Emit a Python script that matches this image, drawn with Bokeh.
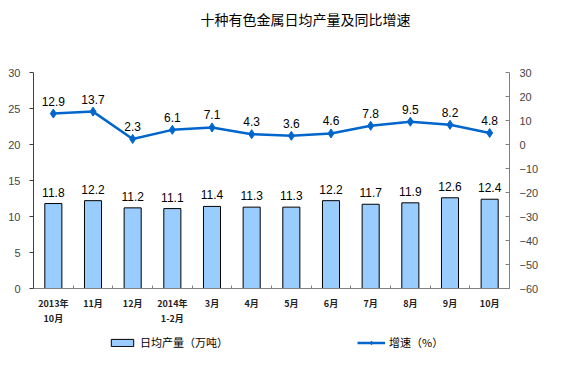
from bokeh.plotting import figure
from bokeh.models import (ColumnDataSource, Range1d, LinearAxis, FixedTicker, Legend, LegendItem, Label)
from bokeh.layouts import column
from bokeh.embed import file_html
from bokeh.resources import INLINE
from bokeh.core.properties import value

categories = ["2013年\n10月", "11月", "12月", "2014年\n1-2月", "3月", "4月", "5月",
              "6月", "7月", "8月", "9月", "10月"]
output = [11.8, 12.2, 11.2, 11.1, 11.4, 11.3, 11.3, 12.2, 11.7, 11.9, 12.6, 12.4]
growth = [12.9, 13.7, 2.3, 6.1, 7.1, 4.3, 3.6, 4.6, 7.8, 9.5, 8.2, 4.8]
left_ticks = [0, 5, 10, 15, 20, 25, 30]
right_ticks = [-60, -50, -40, -30, -20, -10, 0, 10, 20, 30]
title_text = "十种有色金属日均产量及同比增速"

n = len(categories)
xc = [i + 0.5 for i in range(n)]
src = ColumnDataSource(dict(x=xc, out=output, gr=growth,
                            out_lbl=[f"{v:.1f}" for v in output],
                            gr_lbl=[f"{v:.1f}" for v in growth]))

CJK = "Noto Sans CJK SC"
LAT = "Liberation Sans"
BAR_FILL = "#99CCFF"
LINE_COL = "#0066CC"


def strip(h):
    f = figure(width=546, height=h, output_backend="svg", toolbar_location=None,
               x_range=Range1d(0, 1), y_range=Range1d(0, 1),
               min_border_left=0, min_border_right=0, min_border_top=0, min_border_bottom=0)
    f.axis.visible = False
    f.xgrid.visible = False
    f.ygrid.visible = False
    f.outline_line_color = None
    return f


# title strip
t = strip(40)
t.add_layout(Label(x=272, y=22, x_units="screen", y_units="screen",
                   text=title_text, text_align="center",
                   text_baseline="middle", text_font=CJK, text_font_size="14px",
                   text_color="black"))

# main chart
p = figure(width=546, height=292, output_backend="svg", toolbar_location=None,
           x_range=Range1d(0, n), y_range=Range1d(0, 30),
           min_border_left=33, min_border_right=37, min_border_top=32, min_border_bottom=44)
p.outline_line_color = None
p.xgrid.visible = False
p.ygrid.visible = False
p.extra_y_ranges = {"right": Range1d(-60, 30)}

xa = p.xaxis[0]
xa.ticker = FixedTicker(ticks=xc, minor_ticks=list(range(1, n)))
xa.major_label_overrides = {x: c for x, c in zip(xc, categories)}
xa.major_tick_line_color = None
xa.minor_tick_in = 3
xa.minor_tick_out = 0
xa.minor_tick_line_color = "#808080"
xa.axis_line_color = "#808080"
xa.major_label_text_font = CJK
xa.major_label_text_font_size = "9px"
xa.major_label_text_font_style = "bold"
xa.major_label_text_color = "#222222"
xa.major_label_standoff = 2

ya = p.yaxis[0]
ya.ticker = FixedTicker(ticks=left_ticks)
ya.minor_tick_line_color = None
ya.major_tick_in = 0
ya.major_tick_out = 4
ya.axis_line_color = "#404040"
ya.major_tick_line_color = "#404040"
ya.major_label_text_font = LAT
ya.major_label_text_font_size = "11px"
ya.major_label_standoff = 9

ra = LinearAxis(y_range_name="right", ticker=FixedTicker(ticks=right_ticks))
ra.minor_tick_line_color = None
ra.major_tick_in = 4
ra.major_tick_out = 0
ra.axis_line_color = "#808080"
ra.major_tick_line_color = "#808080"
ra.major_label_text_font = LAT
ra.major_label_text_font_size = "11px"
ra.major_label_standoff = 10
p.add_layout(ra, "right")

p.vbar(x="x", top="out", width=0.43, bottom=0, source=src,
       fill_color=BAR_FILL, line_color="black", line_width=1)
p.text(x="x", y="out", text="out_lbl", source=src, text_align="center",
       text_baseline="bottom", y_offset=-7, text_font=value(LAT),
       text_font_size="12px", text_color="black")

p.line(x="x", y="gr", source=src, y_range_name="right",
       line_color=LINE_COL, line_width=2.5)
p.scatter(x="x", y="gr", source=src, y_range_name="right", marker="diamond",
          size=9, fill_color=LINE_COL, line_color=LINE_COL)
p.text(x="x", y="gr", text="gr_lbl", source=src, y_range_name="right",
       text_align="center", text_baseline="bottom", y_offset=-8,
       text_font=value(LAT), text_font_size="12px", text_color="black")

# legend strip (hidden copies of the series supply the legend swatches)
q = strip(40)
lb = q.vbar(x="x", top="out", width=0.43, bottom=0, source=src, visible=False,
            fill_color=BAR_FILL, line_color="black", line_width=1)
ll = q.line(x="x", y="gr", source=src, visible=False,
            line_color=LINE_COL, line_width=2.5)
lm = q.scatter(x="x", y="gr", source=src, visible=False, marker="diamond", size=8,
               fill_color=LINE_COL, line_color=LINE_COL)
legend = Legend(items=[LegendItem(label="日均产量（万吨）", renderers=[lb]),
                       LegendItem(label="增速（%）", renderers=[ll, lm])],
                orientation="horizontal", location=(75, 22),
                glyph_width=28, glyph_height=9, spacing=129, label_standoff=4,
                label_height=14, label_text_font=CJK, label_text_font_size="11px",
                label_text_color="black", inactive_fill_alpha=0,
                border_line_color=None, background_fill_alpha=0,
                padding=0, margin=0)
q.add_layout(legend, "center")

open("out.html", "w").write(file_html(column(t, p, q, spacing=0), INLINE))
